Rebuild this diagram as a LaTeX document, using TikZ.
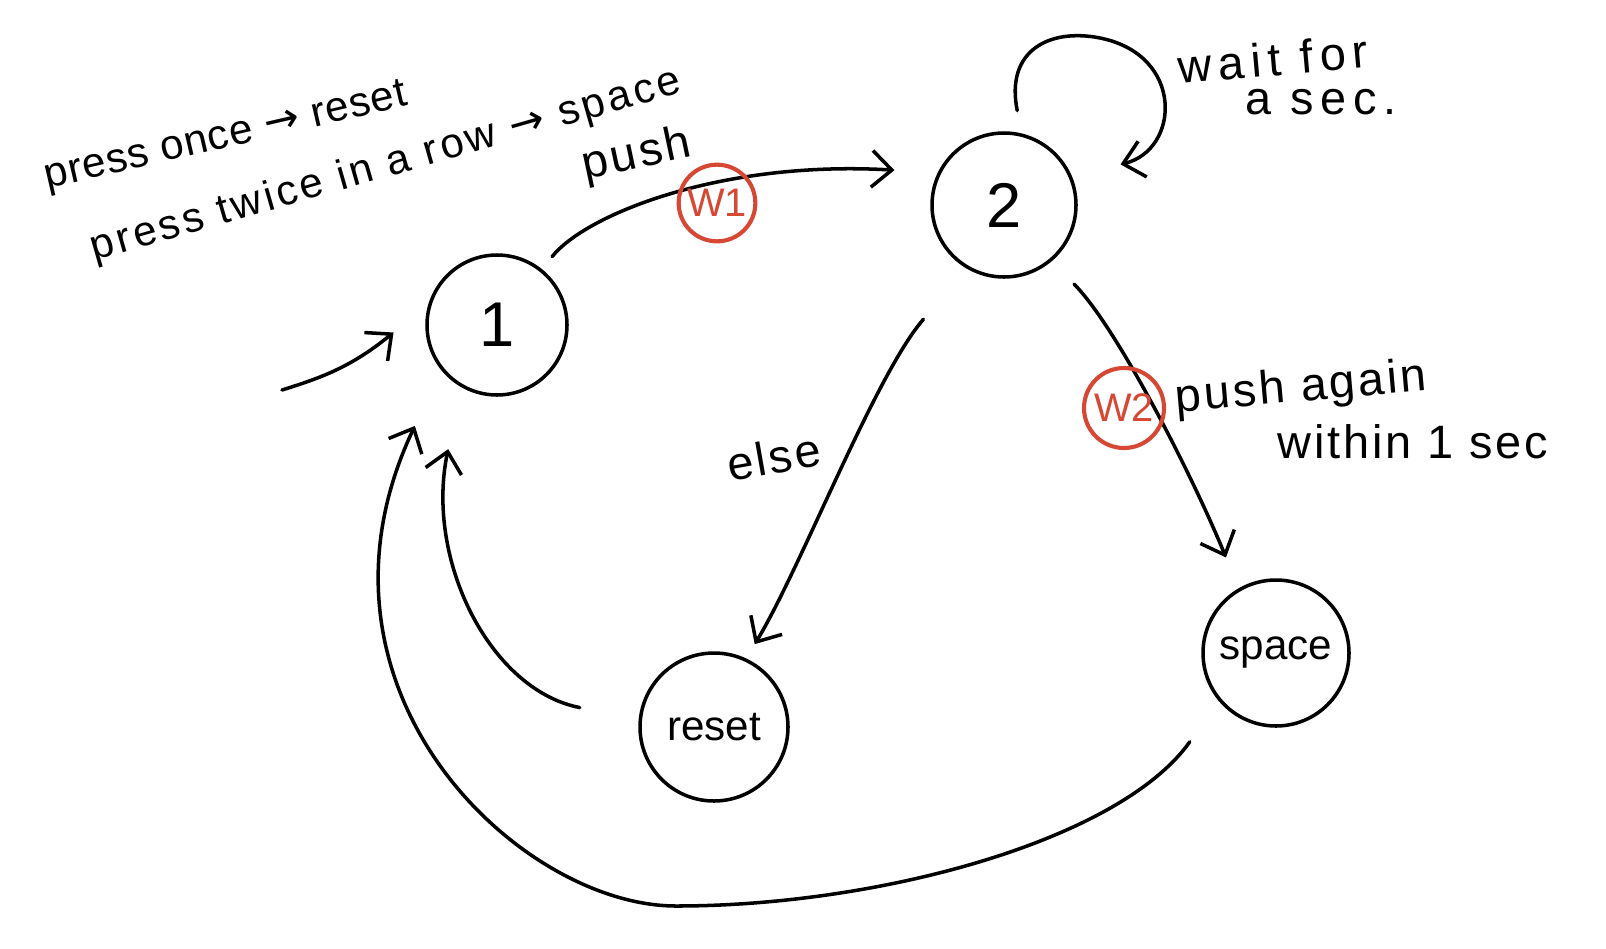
\documentclass[tikz,border=0pt]{standalone}
\usepackage{fontspec}
\setmainfont{Liberation Sans}
\newfontfamily\symfont{DejaVu Sans}
\usetikzlibrary{arrows.meta}
\definecolor{mk}{HTML}{D64834}
\newcommand{\ra}{{\symfont →}}
\begin{document}
\begin{tikzpicture}[x=0.3mm,y=-0.3mm,
  st/.style={circle,draw,line width=3pt,inner sep=0pt},
  arr/.style={line width=3pt,line cap=round,-{Straight Barb[length=6mm,width=11mm,line width=3pt]}},
  lbl/.style={font=\fontsize{40}{44}\selectfont\addfontfeatures{LetterSpace=6}},
  wmark/.style={circle,draw=mk,text=mk,line width=3.5pt,inner sep=0pt,minimum size=23mm,font=\fontsize{34}{36}\selectfont}
]
\useasboundingbox (0,0) rectangle (1606,948);
% states
\node[st,minimum size=42mm,font=\fontsize{54}{58}\selectfont] (n1) at (497,325) {1};
\node[st,minimum size=43.2mm,font=\fontsize{54}{58}\selectfont] (n2) at (1004,205) {2};
\node[st,minimum size=44.4mm,font=\fontsize{36}{40}\selectfont] (reset) at (714,727) {reset};
\node[st,minimum size=43.8mm,font=\fontsize{36}{40}\selectfont] (space) at (1276,653) {space};
% initial arrow
\coordinate (init) at (282,390);
\draw[arr,shorten >=13.5mm] (init) .. controls (320,378) and (350,368) .. (n1.163);
% 1 -> 2
\draw[arr,shorten <=4.8mm,shorten >=13mm] (n1.51) .. controls (585,215) and (720,160) .. (n2.154);
% self loop on 2
\draw[arr,shorten <=7mm,shorten >=15mm] (n2.76) .. controls (1005,50) and (1050,28) .. (1100,38)
  .. controls (1185,55) and (1180,150) .. (n2.23);
% 2 -> space
\draw[arr,shorten <=9.6mm,shorten >=10mm] (n2.-50) .. controls (1115,325) and (1190,470) .. (space.120);
% 2 -> reset
\draw[arr,shorten <=20mm,shorten >=5mm] (n2.-120) .. controls (875,375) and (800,570) .. (reset.65);
% reset -> 1
\draw[arr,shorten <=18mm,shorten >=19mm] (reset.174) .. controls (490,690) and (425,560) .. (n1.-120);
% space -> 1
\draw[arr,shorten <=15mm,shorten >=18.5mm] (space.-140) .. controls (1120,840) and (880,906) .. (676,906)
  .. controls (520,906) and (290,690) .. (n1.-141);
% red marks
\node[wmark] (w1) at (717,203) {W1};
\node[wmark,minimum size=24mm] (w2) at (1124,408) {W2};
% labels
\node[lbl,rotate=13,font=\fontsize{36}{40}\selectfont\addfontfeatures{LetterSpace=2}] (t1) at (226,138) {press once \ra{} reset};
\node[lbl,rotate=16,font=\fontsize{36}{40}\selectfont\addfontfeatures{LetterSpace=8}] (t2) at (386,166) {press twice in a row \ra{} space};
\node[lbl,rotate=12] (t3) at (637,156) {push};
\node[lbl,rotate=5,font=\fontsize{40}{44}\selectfont\addfontfeatures{LetterSpace=14}] (t4) at (1273,59) {wait for};
\node[lbl,font=\fontsize{40}{44}\selectfont\addfontfeatures{LetterSpace=14}] (t5) at (1321,102) {a sec.};
\node[lbl,rotate=5] (t6) at (1301,389) {push again};
\node[lbl] (t7) at (1413,442) {within 1 sec};
\node[lbl,rotate=10] (t8) at (774,457) {else};
\end{tikzpicture}
\end{document}
